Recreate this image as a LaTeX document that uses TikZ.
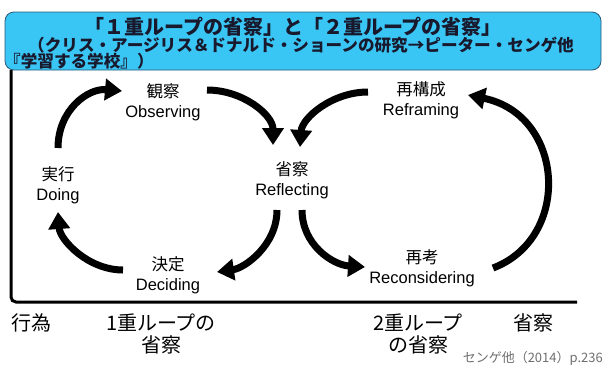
\documentclass[tikz,border=0pt]{standalone}
\usepackage{fontspec}
\setmainfont{Liberation Sans}
\newfontfamily\jp{Noto Sans CJK JP}
\usetikzlibrary{arrows.meta,calc}
\definecolor{titleblue}{RGB}{58,198,245}
\definecolor{titleedge}{RGB}{40,90,120}
\definecolor{titletext}{RGB}{25,25,45}
\definecolor{srcgray}{RGB}{110,110,110}
\tikzset{
  stage/.style={align=center, inner sep=0pt, font=\fontsize{16.5}{20}\selectfont},
  loop/.style={line width=7pt, -{Triangle[width=21pt,length=17pt]}},
  axislabel/.style={align=center, inner sep=0pt, font=\jp\fontsize{20}{22}\selectfont},
  titleline/.style={inner sep=0pt, text=titletext},
}
\begin{document}
\begin{tikzpicture}[x=1pt,y=-1pt]
\useasboundingbox (0,0) rectangle (604,365);

% title box
\node[draw=titleedge, fill=titleblue, line width=0.8pt, rounded corners=9pt,
      minimum width=596pt, minimum height=58pt, inner sep=0pt] (titlebox) at (303,41) {};
\node[titleline, anchor=base, font=\jp\bfseries\fontsize{20}{22}\selectfont] (t1) at (293,34)
  {「１重ループの省察」と「２重ループの省察」};
\node[titleline, anchor=base west, font=\jp\bfseries\fontsize{16.6}{18}\selectfont] (t2) at (28,51.5)
  {（クリス・アージリス＆ドナルド・ショーンの研究→ピーター・センゲ他};
\node[titleline, anchor=base west, font=\jp\bfseries\fontsize{16.6}{18}\selectfont] (t3) at (4,67.5)
  {『学習する学校』）};

% frame
\draw[line width=3pt, rounded corners=5pt] (11,70) -- (11,302) -- (577,302);

% stages
\node[stage] (obs)   at (163,102) {{\jp 観察}\\Observing};
\node[stage] (doing) at (58,185)   {{\jp 実行}\\Doing};
\node[stage] (refl)  at (292,180) {{\jp 省察}\\Reflecting};
\node[stage] (dec)   at (168,275) {{\jp 決定}\\Deciding};
\node[stage] (refr)  at (421,100) {{\jp 再構成}\\Reframing};
\node[stage] (recon) at (422,268) {{\jp 再考}\\Reconsidering};

% single loop
\draw[loop] ($(doing)+(0,-37)$) .. controls ($(doing)+(0,-75)$) and ($(obs)+(-75,-14)$) .. ($(obs)+(-41,-11)$);
\draw[loop] ($(obs)+(44,-12)$) .. controls ($(obs)+(80,-12)$) and ($(refl)+(-19,-65)$) .. ($(refl)+(-19,-35)$);
\draw[loop] ($(refl)+(-15,30)$) .. controls ($(refl)+(-15,65)$) and ($(dec)+(77,-7)$) .. ($(dec)+(49,-3)$);
\draw[loop] ($(dec)+(-45,-5)$) .. controls ($(dec)+(-80,-5)$) and ($(doing)+(2,55)$) .. ($(doing)+(0,27)$);

% double loop
\draw[loop] ($(refr)+(-53,-8)$) .. controls ($(refr)+(-89,-8)$) and ($(refl)+(10,-62)$) .. ($(refl)+(8,-33)$);
\draw[loop] ($(refl)+(10,30)$) .. controls ($(refl)+(10,65)$) and ($(recon)+(-89,-3)$) .. ($(recon)+(-57,-1)$);
\draw[loop] ($(recon)+(71,0)$) .. controls ($(recon)+(150,-30)$) and ($(refr)+(144,15)$) .. ($(refr)+(47,-5)$);

% axis labels
\node[axislabel] (act)  at (31,323)  {行為};
\node[axislabel] (sl)   at (161,334) {1重ループの\\省察};
\node[axislabel] (dl)   at (418,334) {2重ループ\\の省察};
\node[axislabel] (refx) at (533,323) {省察};

% source
\node[anchor=base east, inner sep=0pt, text=srcgray, font=\jp\fontsize{13}{15}\selectfont] (src) at (603,362)
  {センゲ他（2014）p.236};
\end{tikzpicture}
\end{document}
